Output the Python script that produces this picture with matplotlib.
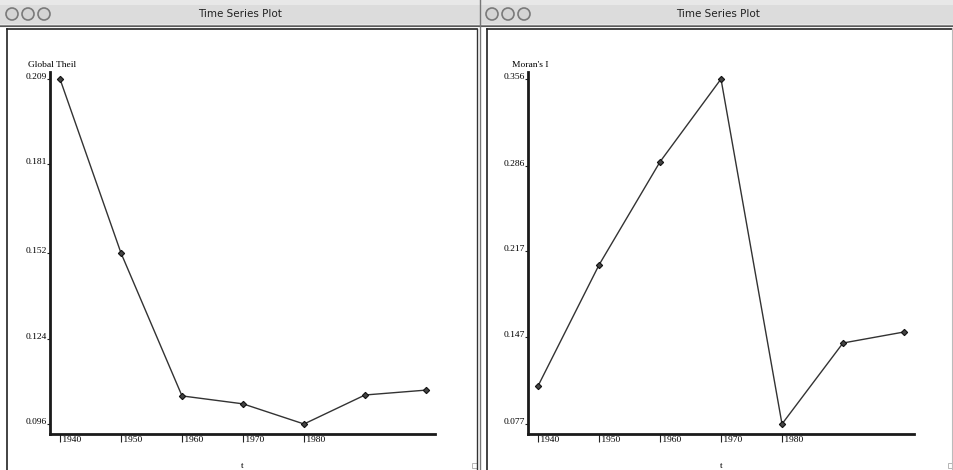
import matplotlib
matplotlib.use('Agg')
from matplotlib import pyplot as plt
from matplotlib.patches import Rectangle, Circle

# values
years = [1940, 1950, 1960, 1970, 1980, 1990, 2000]
tick_years = [1940, 1950, 1960, 1970, 1980]
theil = [0.209, 0.152, 0.1052, 0.1026, 0.096, 0.1055, 0.1071]
moran = [0.1077, 0.2056, 0.289, 0.356, 0.077, 0.1425, 0.1514]
theil_ticks = [0.096, 0.124, 0.152, 0.181, 0.209]
moran_ticks = [0.077, 0.147, 0.217, 0.286, 0.356]
window_title = 'Time Series Plot'
xlabel = 't'

W, H = 954, 470
SERIF = ['Liberation Serif', 'DejaVu Serif']

fig = plt.figure(figsize=(W / 100, H / 100), dpi=100)
fig.patch.set_facecolor('white')

# background axes in pixel coords for the window chrome
bg = fig.add_axes([0, 0, 1, 1])
bg.set_xlim(0, W)
bg.set_ylim(H, 0)
bg.axis('off')


def window(x0, x1, title):
    # title bar
    bg.add_patch(Rectangle((x0, 0), x1 - x0, 24, facecolor='#dcdcdc', edgecolor='none'))
    bg.add_patch(Rectangle((x0, 0), x1 - x0, 5, facecolor='#e8e8e8', edgecolor='none'))
    bg.plot([x0, x1], [24.5, 24.5], color='#8a8a8a', lw=1)
    bg.plot([x0, x1], [26, 26], color='#5a5a5a', lw=0.8)
    for i in range(3):
        bg.add_patch(Circle((x0 + 12 + 16 * i, 14), 6, facecolor='#d4d4d4',
                            edgecolor='#7a7a7a', lw=1.2))
    bg.text((x0 + x1) / 2, 14, title, ha='center', va='center',
            fontsize=7.5, family='DejaVu Sans', color='#222222')
    # content frame
    bg.plot([x0 + 7, x1 - 3], [28.5, 28.5], color='#222222', lw=1.2)
    bg.plot([x0 + 7, x0 + 7], [28.5, H], color='#222222', lw=1.2)


window(0, 480, window_title)
window(480, W + 3, window_title)
bg.plot([477.5, 477.5], [28.5, H], color='#333333', lw=1.0)
bg.plot([480.5, 480.5], [0, H], color='#777777', lw=1.0)
bg.plot([952, 952], [28, H], color='#bbbbbb', lw=0.8)
for gx in (472, 948):
    bg.add_patch(Rectangle((gx, 463), 5, 5, facecolor='none', edgecolor='#aaaaaa', lw=0.6))


def pix_axes(x0, x1, y0, y1):
    return fig.add_axes([x0 / W, 1 - y1 / H, (x1 - x0) / W, (y1 - y0) / H])


def ts_panel(x0, x1, values, ticks, label, label_x):
    ax = pix_axes(x0, x1, 72, 434)
    ax.patch.set_alpha(0)
    ax.plot(years, values, color='#333333', lw=1.0, marker='D', ms=3.2,
            mfc='#444444', mec='#111111', mew=0.8)
    # 61 px per decade, first point 10 px right of the axis
    ax.set_xlim(1940 - 10 / 6.1, 1940 + (x1 - x0 - 10) / 6.1)
    lo, hi = ticks[0], ticks[-1]
    per_px = (hi - lo) / 345
    ax.set_ylim(lo - 10 * per_px, hi + 7 * per_px)
    for s in ('top', 'right'):
        ax.spines[s].set_visible(False)
    for s in ('left', 'bottom'):
        ax.spines[s].set_linewidth(2)
        ax.spines[s].set_color('#1a1a1a')
    ax.set_yticks(ticks)
    ax.set_yticklabels(['%.3f' % t for t in ticks], family=SERIF, fontsize=6.8,
                       va='baseline', color='black')
    ax.set_xticks(tick_years)
    # leading space keeps the label just right of its tick mark
    ax.set_xticklabels([' ' + str(y) for y in tick_years], family=SERIF, fontsize=6.8,
                       ha='left', color='black')
    ax.tick_params(axis='y', direction='out', length=2, width=0.8, pad=0.5, colors='#222222')
    ax.tick_params(axis='x', direction='out', length=6, width=0.8, pad=-4.5, colors='#222222')
    for lbl in ax.get_xticklabels() + ax.get_yticklabels():
        lbl.set_color('black')
    bg.text(label_x, 67, label, ha='left', va='baseline', family=SERIF,
            fontsize=6.8, color='black')
    bg.text((x0 + x1) / 2, 468, xlabel, ha='center', va='baseline', family=SERIF,
            fontsize=6.8, color='black')
    return ax


ts_panel(50, 435, theil, theil_ticks, 'Global Theil', 28)
ts_panel(528, 914, moran, moran_ticks, "Moran's I", 512)

fig.savefig('out.png', dpi=100)
